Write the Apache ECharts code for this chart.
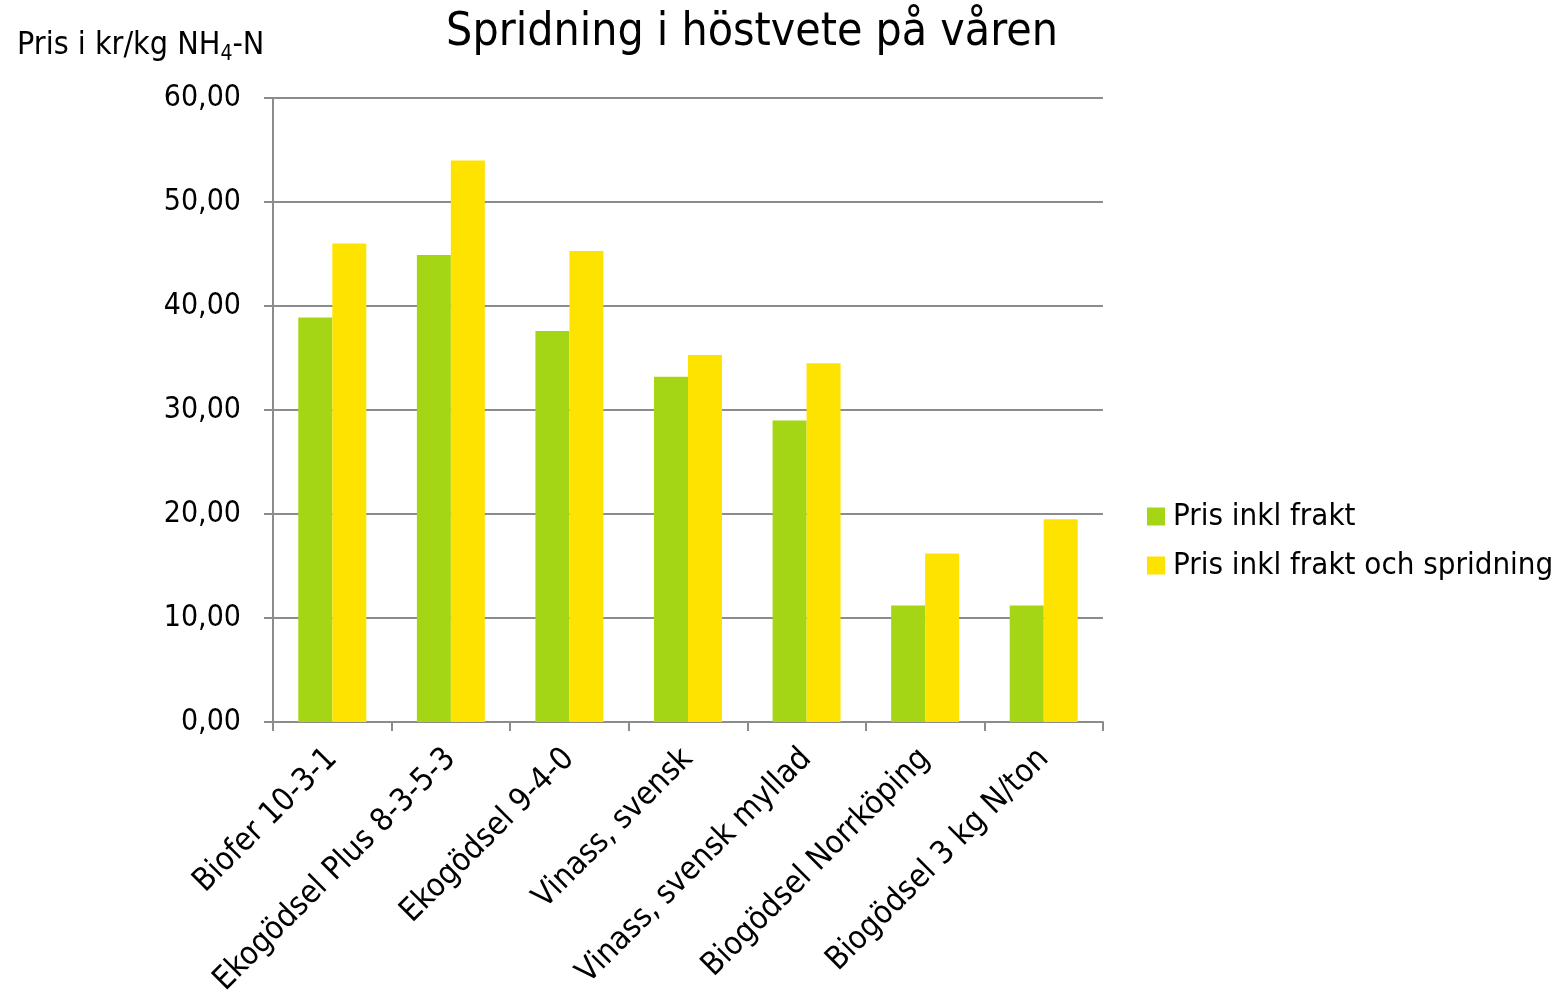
<!DOCTYPE html>
<html>
<head>
<meta charset="utf-8">
<script src="https://cdn.jsdelivr.net/npm/echarts@6/dist/echarts.min.js"></script>
<style>
  html, body { margin: 0; padding: 0; background: #fff; }
  #chart { width: 1562px; height: 995px; }
</style>
</head>
<body>
<div id="chart"></div>
<script>
const categories = [
  "Biofer 10-3-1",
  "Ekogödsel Plus 8-3-5-3",
  "Ekogödsel 9-4-0",
  "Vinass, svensk",
  "Vinass, svensk myllad",
  "Biogödsel Norrköping",
  "Biogödsel 3 kg N/ton",
];
const prisFrakt = [38.9, 44.9, 37.6, 33.2, 29.0, 11.2, 11.2];
const prisFraktSpridning = [46.0, 54.0, 45.3, 35.3, 34.5, 16.2, 19.5];
const seriesNames = ["Pris inkl frakt", "Pris inkl frakt och spridning"];

const font = "'DejaVu Sans Condensed', 'Liberation Sans', sans-serif";
const axisGray = "#8c8c8c";

const myChart = echarts.init(document.getElementById("chart"));

const option = {
  textStyle: { fontFamily: font },
  title: [
    {
      text: "Spridning i höstvete på våren",
      left: 747,
      top: 5,
      textAlign: "center",
      textStyle: { fontFamily: font, fontSize: 46, fontWeight: "normal", color: "#000" },
    },
    {
      text: "Pris i kr/kg NH{sub|4}-N",
      left: 12,
      top: 22,
      textStyle: {
        fontFamily: font,
        fontSize: 32,
        fontWeight: "normal",
        color: "#000",
        lineHeight: 38,
        rich: {
          sub: { fontFamily: font, fontSize: 21, verticalAlign: "bottom", lineHeight: 22, padding: [16, 0, 0, 0], color: "#000" },
        },
      },
    },
  ],
  legend: {
    orient: "vertical",
    left: 1142,
    top: 496,
    itemWidth: 18,
    itemHeight: 18,
    itemGap: 18,
    icon: "rect",
    data: seriesNames,
    textStyle: { fontFamily: font, fontSize: 31, color: "#000", padding: [0, 0, 0, 3] },
  },
  grid: { left: 273, right: 459, top: 98, bottom: 273, outerBoundsMode: "none", containLabel: false },
  xAxis: {
    type: "category",
    data: categories,
    axisLine: { lineStyle: { color: axisGray, width: 2 } },
    axisTick: { show: true, length: 9, lineStyle: { color: axisGray, width: 2 } },
    axisLabel: { rotate: 45, margin: 32, fontSize: 32, color: "#000", fontFamily: font, interval: 0 },
  },
  yAxis: {
    type: "value",
    min: 0,
    max: 60,
    interval: 10,
    axisLine: { show: true, lineStyle: { color: axisGray, width: 2 } },
    axisTick: { show: true, length: 9, lineStyle: { color: axisGray, width: 2 } },
    axisLabel: {
      fontSize: 30,
      color: "#000",
      fontFamily: font,
      margin: 32,
      formatter: (v) => v.toFixed(2).replace(".", ","),
    },
    splitLine: { lineStyle: { color: axisGray, width: 2 } },
  },
  series: [
    {
      name: seriesNames[0],
      type: "bar",
      data: prisFrakt,
      barWidth: 34,
      barGap: "0%",
      itemStyle: { color: "#a4d615" },
    },
    {
      name: seriesNames[1],
      type: "bar",
      data: prisFraktSpridning,
      barWidth: 34,
      itemStyle: { color: "#ffe300" },
    },
  ],
};

myChart.setOption(option);
</script>
</body>
</html>
